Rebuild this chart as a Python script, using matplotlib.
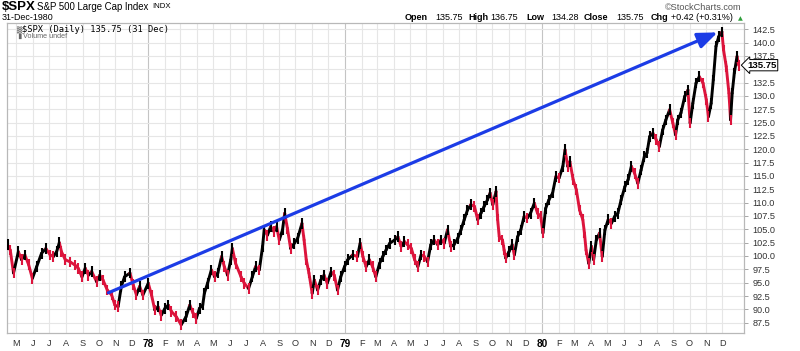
import matplotlib
matplotlib.use('Agg')
import matplotlib.pyplot as plt
import matplotlib.dates as mdates
import matplotlib.transforms as mtransforms
from matplotlib.collections import LineCollection
import pandas as pd
import numpy as np

# ---------------- data ----------------
dates = [
 '1977-04-15','1977-04-20','1977-04-26','1977-05-05','1977-05-11','1977-05-17','1977-05-24','1977-05-31',
 '1977-06-08','1977-06-17','1977-06-25','1977-07-03','1977-07-09','1977-07-15','1977-07-20','1977-07-24',
 '1977-07-31','1977-08-09','1977-08-18','1977-08-24','1977-08-31','1977-09-06','1977-09-12','1977-09-18',
 '1977-09-27','1977-10-03','1977-10-09','1977-10-17','1977-10-25','1977-10-31','1977-11-06','1977-11-12',
 '1977-11-18','1977-11-28','1977-12-04','1977-12-10','1977-12-16','1977-12-22','1978-01-01','1978-01-07',
 '1978-01-13','1978-01-19','1978-01-25','1978-02-01','1978-02-07','1978-02-13','1978-02-22','1978-03-03',
 '1978-03-12','1978-03-19','1978-03-25','1978-03-31','1978-04-06','1978-04-12','1978-04-15','1978-04-21',
 '1978-04-28','1978-05-04','1978-05-10','1978-05-17','1978-05-22','1978-05-28','1978-06-03','1978-06-06',
 '1978-06-12','1978-06-22','1978-06-28','1978-07-06','1978-07-13','1978-07-19','1978-07-26','1978-08-01',
 '1978-08-04','1978-08-10','1978-08-16','1978-08-22','1978-08-27','1978-09-01','1978-09-07','1978-09-11',
 '1978-09-16','1978-09-22','1978-09-29','1978-10-05','1978-10-13','1978-10-17','1978-10-21','1978-10-26',
 '1978-11-01','1978-11-05','1978-11-11','1978-11-17','1978-11-23','1978-11-29','1978-12-06','1978-12-12',
 '1978-12-18','1978-12-24','1978-12-31','1979-01-06','1979-01-15','1979-01-24','1979-01-29','1979-02-03',
 '1979-02-09','1979-02-15','1979-02-21','1979-02-27','1979-03-06','1979-03-12','1979-03-18','1979-03-25',
 '1979-04-03','1979-04-09','1979-04-15','1979-04-21','1979-04-27','1979-05-04','1979-05-10','1979-05-16',
 '1979-05-22','1979-05-28','1979-06-03','1979-06-09','1979-06-15','1979-06-22','1979-06-28','1979-07-04',
 '1979-07-10','1979-07-16','1979-07-22','1979-07-29','1979-08-04','1979-08-10','1979-08-16','1979-08-22',
 '1979-08-29','1979-09-04','1979-09-10','1979-09-16','1979-09-22','1979-09-27','1979-10-02','1979-10-08',
 '1979-10-11','1979-10-14','1979-10-20','1979-10-23','1979-10-26','1979-11-01','1979-11-07','1979-11-11',
 '1979-11-17','1979-11-23','1979-11-29','1979-12-05','1979-12-11','1979-12-18','1979-12-24','1979-12-30',
 '1980-01-03','1980-01-08','1980-01-14','1980-01-21','1980-01-27','1980-02-02','1980-02-09','1980-02-13',
 '1980-02-18','1980-02-22','1980-02-28','1980-03-05','1980-03-11','1980-03-17','1980-03-20','1980-03-23',
 '1980-03-28','1980-04-02','1980-04-06','1980-04-11','1980-04-17','1980-04-22','1980-04-27','1980-05-03',
 '1980-05-09','1980-05-15','1980-05-21','1980-05-27','1980-06-03','1980-06-09','1980-06-15','1980-06-21',
 '1980-06-27','1980-07-03','1980-07-09','1980-07-14','1980-07-19','1980-07-25','1980-07-31','1980-08-06',
 '1980-08-12','1980-08-18','1980-08-25','1980-08-31','1980-09-05','1980-09-09','1980-09-15','1980-09-22',
 '1980-09-28','1980-10-02','1980-10-07','1980-10-13','1980-10-19','1980-10-26','1980-11-01','1980-11-05',
 '1980-11-10','1980-11-14','1980-11-19','1980-11-24','1980-11-30','1980-12-03','1980-12-08','1980-12-13',
 '1980-12-16','1980-12-19','1980-12-23','1980-12-28','1980-12-31',
]
closes = [
 102.1,101.1,96.8,100.8,99.3,100.2,98.4,95.8,
 98.0,100.5,101.4,100.2,99.9,100.8,102.5,100.8,
 99.3,98.9,98.3,97.7,96.1,97.7,96.4,97.1,
 95.2,96.4,95.5,93.6,92.7,90.8,90.5,94.3,
 96.1,96.8,94.6,92.7,94.3,92.7,94.9,92.7,
 89.9,90.5,88.9,90.2,90.8,89.6,88.6,87.1,
 88.6,90.8,89.3,88.3,90.2,90.8,93.0,94.9,
 97.4,96.1,96.8,99.9,98.0,96.4,99.3,101.4,
 98.6,96.1,94.9,93.9,96.1,98.0,97.4,101.8,
 104.9,103.9,105.5,104.6,105.5,103.0,104.9,108.0,
 105.2,101.4,102.4,103.3,106.1,103.0,99.3,96.8,
 93.0,95.5,93.6,95.5,96.4,94.9,97.0,96.4,
 93.6,96.1,98.0,99.3,100.2,99.9,102.4,99.9,
 98.0,99.3,98.0,96.1,98.6,99.9,101.1,102.4,
 103.0,103.6,101.8,102.7,102.1,101.4,99.3,98.0,
 100.2,99.9,98.9,102.1,103.0,102.1,103.0,102.4,
 104.9,101.8,102.1,103.3,104.9,106.8,108.6,109.6,
 109.3,106.8,108.0,109.3,110.5,111.8,109.6,112.1,
 106.8,103.6,103.0,101.1,99.6,100.8,102.1,100.2,
 103.6,104.9,107.4,107.1,108.0,109.9,108.0,107.4,
 104.3,108.9,110.5,111.8,114.9,114.6,116.8,119.9,
 116.8,117.7,114.3,112.4,108.6,106.8,104.3,101.1,
 98.6,101.8,99.3,103.0,104.3,99.9,104.9,106.8,
 106.1,107.4,108.0,110.5,113.0,114.3,116.8,115.5,
 113.6,116.1,118.6,119.3,122.4,123.0,121.8,120.5,
 123.6,125.5,127.4,124.9,122.7,125.5,126.8,129.9,
 131.1,124.9,128.6,132.4,133.6,132.4,129.3,126.1,
 128.6,133.0,139.3,141.1,142.0,138.6,135.5,130.5,
 125.5,130.5,134.3,137.4,135.75,
]

y_ticks = [87.5, 90.0, 92.5, 95.0, 97.5, 100.0, 102.5, 105.0, 107.5, 110.0, 112.5,
           115.0, 117.5, 120.0, 122.5, 125.0, 127.5, 130.0, 132.5, 135.0, 137.5, 140.0, 142.5]
last_close = 135.75
ohlc_labels = ['Open', 'High', 'Low', 'Close', 'Chg']
ohlc_values = ['135.75', '136.75', '134.28', '135.75', '+0.42 (+0.31%)']
arrow_start = ('1977-10-19', 93.1)
arrow_end = ('1980-11-22', 141.9)

# ---------------- figure ----------------
W, H = 800, 351
fig = plt.figure(figsize=(W / 100, H / 100), dpi=100)
fig.patch.set_facecolor('white')
ax = fig.add_axes([7.3 / W, 18 / H, 737.0 / W, 309.7 / H])

t = mdates.date2num(pd.to_datetime(dates))
c = np.array(closes)

ax.set_xlim(mdates.date2num(pd.Timestamp('1977-04-14 12:00')),
            mdates.date2num(pd.Timestamp('1981-01-10 12:00')))
ax.set_ylim(85.57, 143.6)

# grid
months = pd.date_range('1977-05-01', '1980-12-01', freq='MS')
mnum = mdates.date2num(months)
for m, d in zip(mnum, months):
    ax.axvline(m, color='#c4c4c4' if d.month == 1 else '#e6e6e6', lw=0.8, zorder=0)
for yv in y_ticks:
    ax.axhline(yv, color='#e6e6e6', lw=0.8, zorder=0)

# price bars: segments coloured by direction
BLACK, RED = '#000000', '#dc143c'
segs, cols = [], []
for i in range(1, len(c)):
    segs.append([(t[i - 1], c[i - 1]), (t[i], c[i])])
    cols.append(BLACK if c[i] >= c[i - 1] else RED)
ax.add_collection(LineCollection(segs, colors=cols, linewidths=2.1, zorder=3, capstyle='round'))
vcols = [BLACK] + cols
half = 1.0
ax.vlines(t, c - half, c + half, colors=vcols, linewidths=1.5, zorder=3)

# blue trend arrow
a0 = (mdates.date2num(pd.Timestamp(arrow_start[0])), arrow_start[1])
a1 = (mdates.date2num(pd.Timestamp(arrow_end[0])), arrow_end[1])
ax.annotate('', xy=a1, xytext=a0,
            arrowprops=dict(arrowstyle='-|>,head_length=0.7,head_width=0.28',
                            color='#1c3ce6', lw=2.3, mutation_scale=17,
                            shrinkA=0, shrinkB=0), zorder=5)

# axes styling
for s in ax.spines.values():
    s.set_color('#b8b8b8')
    s.set_linewidth(0.9)

ax.yaxis.tick_right()
ax.set_yticks(y_ticks)
# the 135.0 label sits under the last-price tag in the reference
ax.set_yticklabels(['' if v == 135.0 else f'{v:.1f}' for v in y_ticks], fontsize=6.6,
                   color='#333333', family='Liberation Sans')
ax.tick_params(axis='y', length=3, width=0.6, color='#999999', pad=3)

ax.set_xticks(mnum)
xl = [(d.strftime('%y') if d.month == 1 else d.strftime('%b')[0]) for d in months]
ax.set_xticklabels(xl, fontsize=6.6, color='#333333', family='Liberation Sans')
for lab, d in zip(ax.get_xticklabels(), months):
    if d.month == 1:
        lab.set_fontweight('bold')
        lab.set_color('#000000')
        lab.set_fontsize(7.2)
ax.tick_params(axis='x', length=0, pad=4)

# last price tag
trans = mtransforms.blended_transform_factory(ax.transAxes, ax.transData)
ax.text(1.004, last_close, f'{last_close:.2f}', transform=trans, ha='left', va='center',
        fontsize=6.8, fontweight='bold', family='Liberation Sans', color='black', zorder=6,
        bbox=dict(boxstyle='larrow,pad=0.12', fc='white', ec='black', lw=0.7), clip_on=False)

# legend inside plot
ax.text(15 / 737.0, 1 - 6.5 / 309.7, '$SPX (Daily) 135.75 (31 Dec)', transform=ax.transAxes,
        fontsize=6.3, family='DejaVu Sans Mono', va='center', ha='left', color='black')
ax.text(8.5 / 737.0, 1 - 6.5 / 309.7, '\u2592', transform=ax.transAxes,
        fontsize=5, family='DejaVu Sans', va='center', ha='left', color='#444444')
ax.text(16 / 737.0, 1 - 13 / 309.7, 'Volume undef', transform=ax.transAxes,
        fontsize=5.2, family='Liberation Sans', va='center', ha='left', color='#666666')
ax.text(9 / 737.0, 1 - 13 / 309.7, '\u2590\u258c', transform=ax.transAxes,
        fontsize=3.5, family='DejaVu Sans', va='center', ha='left', color='#666666')

# header
def ftext(x, y, s, **kw):
    fig.text(x / W, 1 - y / H, s, va='center', **kw)

ftext(2, 7.5, '$SPX', fontsize=9.5, fontweight='bold', family='Liberation Sans')
ftext(37, 7.0, 'S&P 500 Large Cap Index', fontsize=6.9, family='Liberation Sans')
ftext(152, 7.0, 'INDX', fontsize=5.6, family='Liberation Sans')
ftext(2, 17.5, '31-Dec-1980', fontsize=6.4, family='Liberation Sans')
ftext(665, 7.0, '\u00a9StockCharts.com', fontsize=6.6, family='Liberation Sans', color='#555555')

lab_x = [405, 468, 526, 584, 651]
val_x = [435, 490, 551, 616, 671]
for lx, vx, lb, vv in zip(lab_x, val_x, ohlc_labels, ohlc_values):
    ftext(lx, 18, lb, fontsize=6.5, fontweight='bold', family='Liberation Sans')
    ftext(vx, 18, vv, fontsize=6.5, family='Liberation Sans')
ftext(738, 18.5, '\u25b2', fontsize=4.5, family='DejaVu Sans', color='#2e9e3a')

fig.savefig('out.png', dpi=100, facecolor='white')
